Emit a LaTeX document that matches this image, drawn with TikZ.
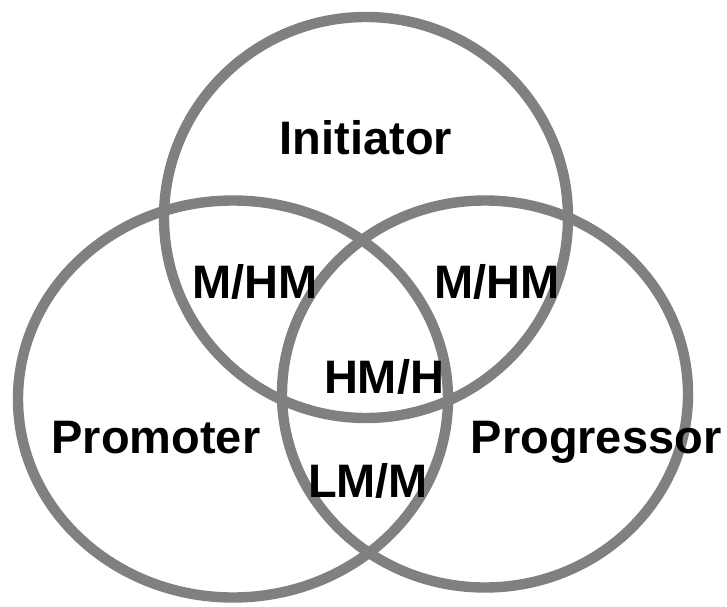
\documentclass[tikz,border=0pt]{standalone}
\usepackage{fontspec}
\setmainfont{Liberation Sans}
\usepackage{xcolor}
\usepackage{tikz}
\definecolor{ring-gray}{RGB}{128, 128, 128}

\begin{document}
\begin{tikzpicture}[
  x=0.025cm, y=0.025cm,
  ring/.style={draw=ring-gray, line width=0.26cm},
  lbl/.style={anchor=base, inner sep=0pt, text=black,
              font=\fontsize{33.4}{40}\selectfont\bfseries}
]
  \useasboundingbox (0,0) rectangle (727,606);

  % centres of the three sets
  \coordinate (init) at (366,388.5);
  \coordinate (prom) at (233,207);
  \coordinate (prog) at (485,212);

  \draw[ring] (init) ellipse [x radius=202, y radius=200.5];
  \draw[ring] (prom) ellipse [x radius=215, y radius=198.5];
  \draw[ring] (prog) ellipse [x radius=203, y radius=193.5];

  \node[lbl] (initlbl) at (366,451) {Initiator};
  \node[lbl] (promlbl) at (156,153) {Promoter};
  \node[lbl] (proglbl) at (596,153) {Progressor};
  \node[lbl] (ip)      at (255,308) {M/HM};
  \node[lbl] (ig)      at (497,308) {M/HM};
  \node[lbl] (ipg)     at (384,213) {HM/H};
  \node[lbl] (pg)      at (368,109) {LM/M};
\end{tikzpicture}
\end{document}
